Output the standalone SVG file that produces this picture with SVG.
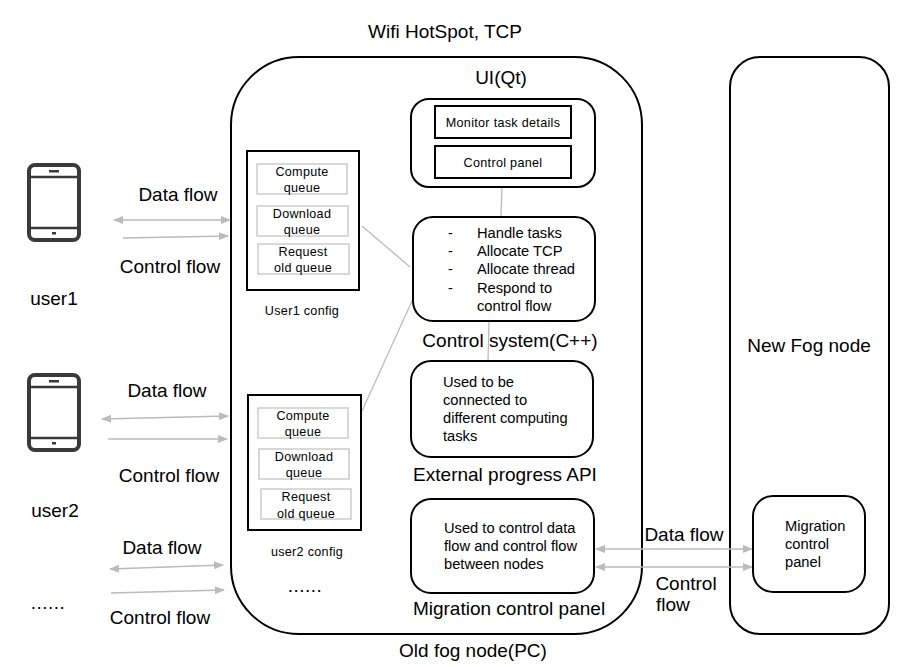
<svg xmlns="http://www.w3.org/2000/svg" width="912" height="667" viewBox="0 0 912 667">
<style>
text{font-family:"Liberation Sans",Arial,sans-serif;fill:#000}
.l{font-size:19px}
.s{font-size:14.7px}
.x{font-size:12.6px;letter-spacing:.3px}
.c{text-anchor:middle}
.b{fill:#fff;stroke:#000;stroke-width:2}
.g{fill:#fff;stroke:#ccc;stroke-width:1.5}
.n{fill:none;stroke:#bbb;stroke-width:1.3}
.a{fill:#bbb;stroke:none}
</style>
<defs>
<marker id="e" viewBox="0 0 10 8" refX="9" refY="4" markerWidth="11" markerHeight="8" markerUnits="userSpaceOnUse" orient="auto-start-reverse"><path class="a" d="M0 0L10 4L0 8Z"/></marker>
<g id="phone"><rect x="29" y="165" width="50" height="75" rx="6" fill="#fff" stroke="#3a3a3a" stroke-width="4"/><path d="M29 177H79M29 228H79" stroke="#3a3a3a" stroke-width="2.5" fill="none"/><rect x="49" y="170" width="10" height="2.5" fill="#3a3a3a"/><rect x="52" y="232" width="4" height="2.5" fill="#3a3a3a"/></g>
</defs>
<rect width="912" height="667" fill="#fff"/>
<g id="old-fog-node"><rect class="b" x="231" y="57" width="411" height="577" rx="68"/></g>
<g id="new-fog-node"><rect class="b" x="730" y="57" width="159" height="577" rx="30"/></g>
<g id="connectors">
<path class="n" d="M502 187L501 216M362 226L410 267M362 411L412 301M489 322L488 361"/>
<g stroke="#bbb" stroke-width="1.3" fill="none" marker-end="url(#e)" marker-start="url(#e)">
<path d="M114 220H230"/><path d="M102 419L228 416"/><path d="M110 569L223 565"/><path d="M596 549H752"/><path d="M596 567H752"/>
</g>
<g stroke="#bbb" stroke-width="1.3" fill="none" marker-end="url(#e)">
<path d="M123 238L228 236"/><path d="M108 439H227"/><path d="M111 593L224 590"/>
</g>
</g>
<g id="phone1"><use href="#phone"/></g>
<g id="phone2"><use href="#phone" y="210"/></g>
<g id="labels">
<text class="l c" x="445" y="38">Wifi HotSpot, TCP</text>
<text class="l c" x="178" y="201">Data flow</text>
<text class="l c" x="170" y="273">Control flow</text>
<text class="l c" x="54" y="305">user1</text>
<text class="l c" x="167" y="397">Data flow</text>
<text class="l c" x="169" y="482">Control flow</text>
<text class="l c" x="55" y="517">user2</text>
<text class="l c" x="162" y="554">Data flow</text>
<text class="l c" x="160" y="624">Control flow</text>
<text class="l c" x="48" y="609" letter-spacing=".5">......</text>
<text class="l c" x="473" y="657">Old fog node(PC)</text>
<text class="l c" x="684" y="541">Data flow</text>
<text class="l c" x="686" y="590">Control</text>
<text class="l" x="656" y="611">flow</text>
<text class="l c" x="809" y="352">New Fog node</text>
<text class="l c" x="305" y="592" letter-spacing=".5">......</text>
</g>
<g id="ui"><rect class="b" x="411" y="99" width="184" height="88" rx="18"/>
<text class="l c" x="501" y="84">UI(Qt)</text>
<rect class="b" x="435" y="106" width="136" height="32"/><text class="x c" x="503" y="127">Monitor task details</text>
<rect class="b" x="435" y="146" width="136" height="32"/><text class="x c" x="503" y="167">Control panel</text></g>
<g id="control-system"><rect class="b" x="413" y="217" width="182" height="104" rx="20"/>
<text class="s" x="448" y="238">-</text><text class="s" x="477" y="238">Handle tasks</text>
<text class="s" x="448" y="256">-</text><text class="s" x="477" y="256">Allocate TCP</text>
<text class="s" x="448" y="274">-</text><text class="s" x="477" y="274">Allocate thread</text>
<text class="s" x="448" y="293">-</text><text class="s" x="477" y="293">Respond to</text>
<text class="s" x="477" y="311">control flow</text>
<text class="l c" x="510" y="347">Control system(C++)</text></g>
<g id="external-api"><rect class="b" x="411" y="361" width="182" height="96" rx="20"/>
<text class="s" x="443" y="387">Used to be</text><text class="s" x="443" y="405">connected to</text><text class="s" x="443" y="423">different computing</text><text class="s" x="443" y="441">tasks</text>
<text class="l c" x="505" y="481">External progress API</text></g>
<g id="migration-panel"><rect class="b" x="411" y="499" width="183" height="94" rx="20"/>
<text class="s" x="444" y="533">Used to control data</text><text class="s" x="444" y="551">flow and control flow</text><text class="s" x="444" y="569">between nodes</text>
<text class="l c" x="509" y="615">Migration control panel</text></g>
<g id="new-migration-panel"><rect class="b" x="753" y="496" width="112" height="96" rx="20"/>
<text class="s" x="785" y="531">Migration</text><text class="s" x="785" y="549">control</text><text class="s" x="785" y="567">panel</text></g>
<g id="user1-config"><rect class="b" x="247" y="151" width="112" height="139"/>
<rect class="g" x="257" y="164" width="90" height="30"/><text class="x c" x="302" y="176">Compute</text><text class="x c" x="302" y="192">queue</text>
<rect class="g" x="257" y="206" width="91" height="30"/><text class="x c" x="302" y="218">Download</text><text class="x c" x="302" y="234">queue</text>
<rect class="g" x="258" y="244" width="91" height="30"/><text class="x c" x="303" y="256">Request</text><text class="x c" x="303" y="272">old queue</text>
<text class="x c" x="302" y="315">User1 config</text></g>
<g id="user2-config"><rect class="b" x="248" y="395" width="113" height="135"/>
<rect class="g" x="258" y="408" width="90" height="30"/><text class="x c" x="303" y="420">Compute</text><text class="x c" x="303" y="436">queue</text>
<rect class="g" x="259" y="449" width="90" height="30"/><text class="x c" x="304" y="461">Download</text><text class="x c" x="304" y="477">queue</text>
<rect class="g" x="261" y="489" width="90" height="30"/><text class="x c" x="306" y="501">Request</text><text class="x c" x="306" y="518">old queue</text>
<text class="x c" x="307" y="556">user2 config</text></g>
</svg>
